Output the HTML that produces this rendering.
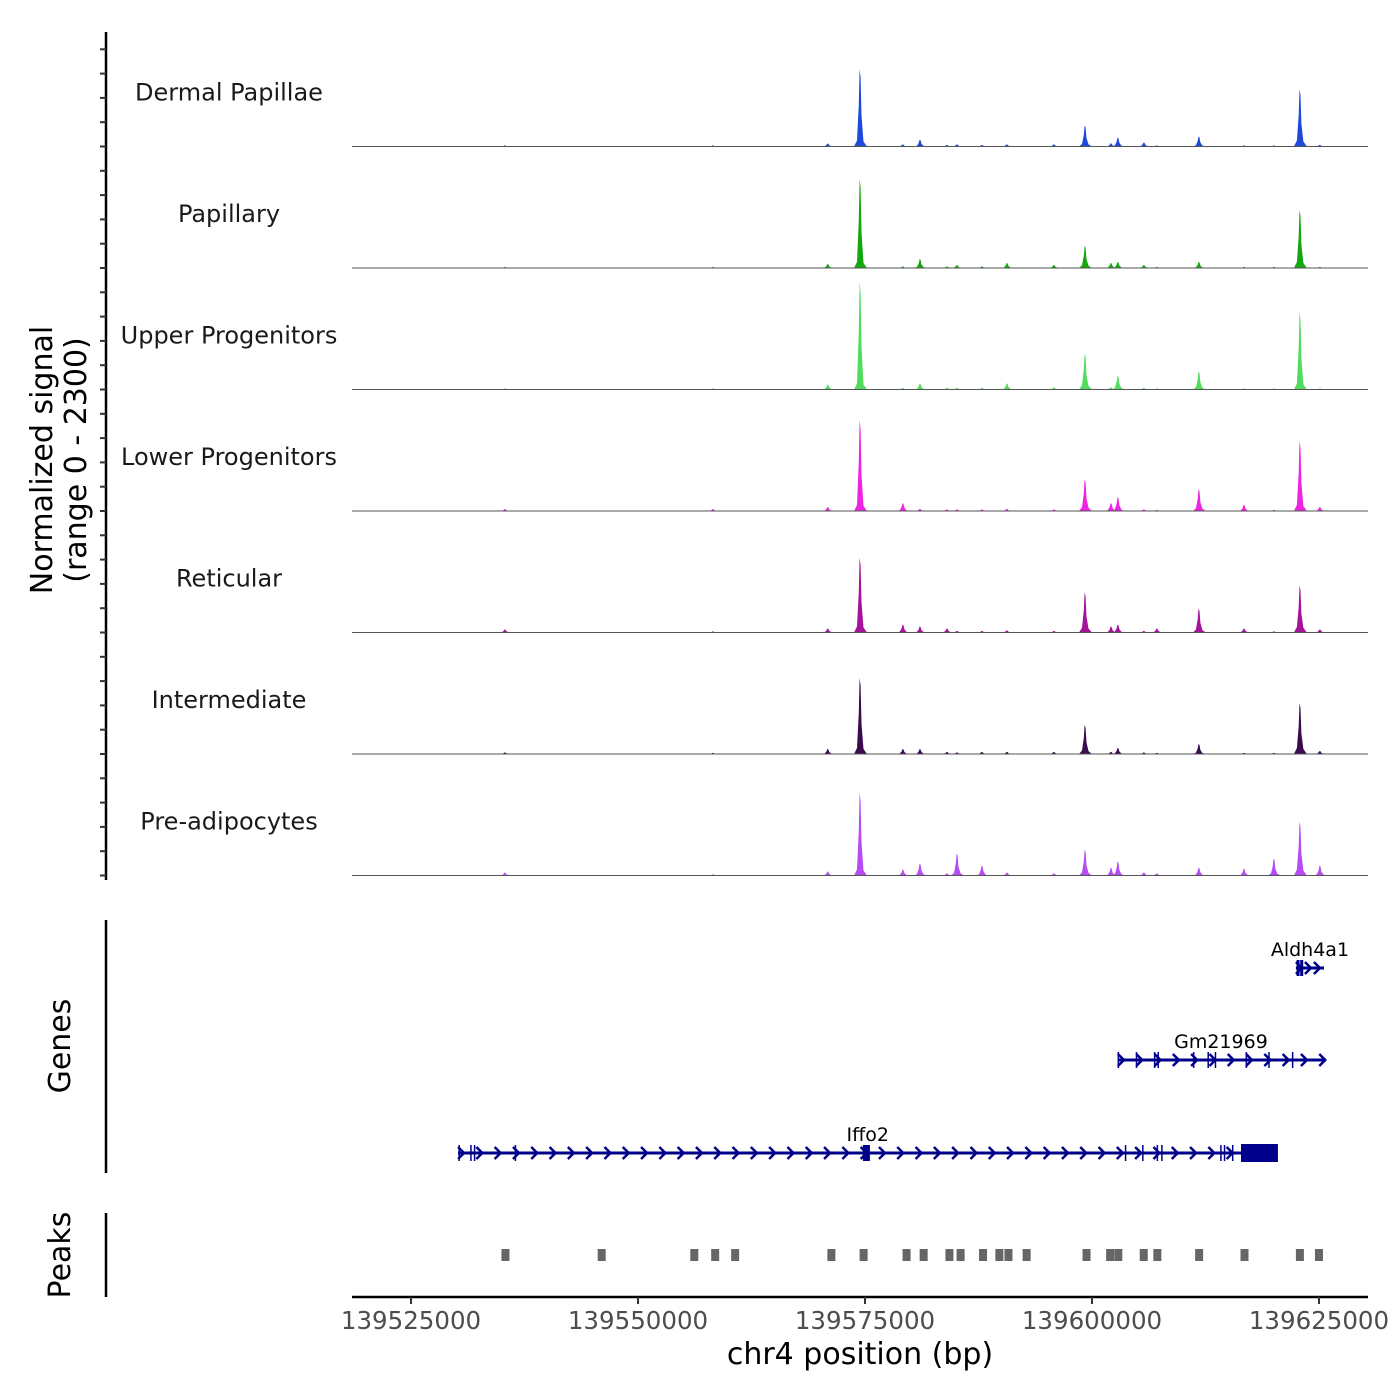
<!DOCTYPE html>
<html><head><meta charset="utf-8">
<style>
html,body{margin:0;padding:0;background:#fff;}
svg{display:block;font-family:"DejaVu Sans","Liberation Sans",sans-serif;}
</style></head>
<body>
<svg id="chart" width="1400" height="1400" viewBox="0 0 1400 1400" xmlns="http://www.w3.org/2000/svg">
<g id="tracks"></g>
<g id="left"></g>
<g id="genes"></g>
<g id="peaks"></g>
<g id="xaxis"></g>
</svg>
<script>
const trackNames = ["Dermal Papillae","Papillary","Upper Progenitors","Lower Progenitors","Reticular","Intermediate","Pre-adipocytes"];
const trackColors = ["#1d4ada","#15a80e","#52dc5e","#ee24e2","#a5139a","#3b0b50","#b54df3"];
const peakPos = [139535350,139558260,139570900,139574450,139579180,139581060,139584030,139585130,139587890,139590640,139595820,139599230,139602090,139602860,139605720,139607150,139611780,139616740,139620040,139622900,139625100];
// signal values (0-2300) per track at peakPos
const sigDermal   = [20,20,57,1460,40,130,30,40,30,40,40,400,60,170,75,20,190,20,20,1080,30];
const sigPapillary= [20,20,75,1690,30,170,30,57,30,95,57,420,95,115,57,20,115,20,20,1100,20];
const sigUpper    = [20,20,95,2030,30,115,30,30,30,115,40,680,40,265,30,20,340,20,20,1460,20];
const sigLower    = [38,38,75,1720,150,40,30,30,30,40,30,600,150,265,30,20,415,115,20,1320,75];
const sigReticular= [57,20,75,1420,150,115,75,30,30,40,30,760,115,150,30,75,455,75,20,890,57];
const sigInter    = [30,20,95,1440,95,95,40,30,40,40,40,550,40,115,30,20,190,20,20,965,57];
const sigPreadipo = [57,20,75,1570,115,230,40,415,190,57,40,490,150,265,57,40,150,130,320,1020,190];
const trackSignals = [sigDermal,sigPapillary,sigUpper,sigLower,sigReticular,sigInter,sigPreadipo];
const peakRegions = [139535400,139546000,139556200,139558500,139560700,139571300,139574850,139579580,139581460,139584300,139585530,139588000,139589800,139590800,139592800,139599400,139602000,139602900,139605700,139607200,139611800,139616800,139622900,139625000];
const xTicks = [139525000,139550000,139575000,139600000,139625000];
const genes = [
 {name:"Aldh4a1", start:139622460, end:139625550, row:0, exons:[139622700,139623100]},
 {name:"Gm21969", start:139602860, end:139625550, row:1, exons:[139602900,139604900,139606900,139607300,139611200,139612800,139613600,139617000,139619500,139622100]},
 {name:"Iffo2", start:139530180, end:139620480, row:2, thickStart:139616410, thickEnd:139620480, exons:[139530300,139531600,139532000,139536500,139574900,139575300,139603700,139605600,139607200,139607700,139614200,139614600,139615500]}
];

const NS="http://www.w3.org/2000/svg";
const X0=352, X1=1368, BP0=139518500, BP1=139630400;
function xs(bp){return X0+(bp-BP0)/(BP1-BP0)*(X1-X0);}
const TH=121.5, TOP=25, YMAX=2300;
function mk(tag,attrs,parent){const e=document.createElementNS(NS,tag);for(const k in attrs)e.setAttribute(k,attrs[k]);parent.appendChild(e);return e;}

const gT=document.getElementById('tracks');
trackNames.forEach((name,i)=>{
  const base=TOP+TH*(i+1);
  const g=mk('g',{},gT);
  
  
  const sig=trackSignals[i];
  peakPos.forEach((p,j)=>{
    const x=xs(p), h=sig[j]/YMAX*TH;
    const pts=[[x-6,base],[x-3,base-Math.min(h*0.12,6)],[x-1.2,base-h*0.55],[x-0.4,base-h],[x+0.6,base-h*0.9],[x+1.5,base-h*0.4],[x+3.5,base-Math.min(h*0.1,5)],[x+7,base]];
    const poly=mk('polygon',{points:pts.map(q=>q[0].toFixed(1)+','+q[1].toFixed(1)).join(' '),fill:trackColors[i]},g);
    
    
  });
  const bl=mk('line',{x1:X0,x2:X1,y1:base,y2:base,stroke:'#555',"stroke-width":1},g);
  
  
  const t=mk('text',{x:229,y:base-46,"text-anchor":"middle","font-size":24,fill:'#1a1a1a'},g);
  t.textContent=name;
  
  
});

const gL=document.getElementById('left');
mk('line',{x1:106,x2:106,y1:32,y2:880,stroke:'#000',"stroke-width":2.5},gL);
for(let k=0;k<=34;k++){const y=TOP+TH*7-k*TH/5; if(y<40)continue; mk('line',{x1:100,x2:106,y1:y,y2:y,stroke:'#333',"stroke-width":2},gL);}
const yl=mk('text',{transform:'translate(52,460) rotate(-90)',"text-anchor":"middle","font-size":30,fill:'#000'},gL);
yl.textContent='Normalized signal';


const yl2=mk('text',{transform:'translate(86,460) rotate(-90)',"text-anchor":"middle","font-size":30,fill:'#000'},gL);
yl2.textContent='(range 0 - 2300)';


mk('line',{x1:106,x2:106,y1:920,y2:1173,stroke:'#000',"stroke-width":2.5},gL);
const gl=mk('text',{transform:'translate(70,1046) rotate(-90)',"text-anchor":"middle","font-size":30,fill:'#000'},gL);
gl.textContent='Genes';


mk('line',{x1:106,x2:106,y1:1213,y2:1297,stroke:'#000',"stroke-width":2.5},gL);
const pl=mk('text',{transform:'translate(70,1255) rotate(-90)',"text-anchor":"middle","font-size":30,fill:'#000'},gL);
pl.textContent='Peaks';



const gG=document.getElementById('genes');
const rowY=[968,1060,1153], GC='#00008b';
genes.forEach(gn=>{
  const y=rowY[gn.row], x1=xs(gn.start), x2=xs(gn.end);
  const g=mk('g',{},gG);
  
  
  mk('line',{x1:x1,x2:x2,y1:y,y2:y,stroke:GC,"stroke-width":3},g);
  const step=gn.row===0?9:18.3;
  for(let ax=x1+3;ax<x2;ax+=step){
    mk('polyline',{points:`${ax-3},${y-6} ${ax+3},${y} ${ax-3},${y+6}`,fill:'none',stroke:GC,"stroke-width":2.5},g);
  }
  gn.exons.forEach(e=>{const ex=xs(e); mk('line',{x1:ex,x2:ex,y1:y-8,y2:y+8,stroke:GC,"stroke-width":gn.row===0?3:1.5},g);});
  if(gn.thickStart){mk('rect',{x:xs(gn.thickStart),y:y-9,width:xs(gn.thickEnd)-xs(gn.thickStart),height:18,fill:GC},g);}
  if(gn.name==='Iffo2'){mk('rect',{x:xs(139575100)-3,y:y-8,width:7,height:16,fill:GC},g);}
  const t=mk('text',{x:(gn.name==='Iffo2'?xs(139575300):(x1+x2)/2),y:y-12,"text-anchor":"middle","font-size":19,fill:'#000'},g);
  t.textContent=gn.name;
  
  
});

const gP=document.getElementById('peaks');
peakRegions.forEach(p=>{
  const r=mk('rect',{x:xs(p)-4,y:1249,width:8,height:12,fill:'#666'},gP);
  
  
});

const gX=document.getElementById('xaxis');
mk('line',{x1:X0,x2:X1,y1:1297,y2:1297,stroke:'#000',"stroke-width":2.5},gX);
xTicks.forEach(t=>{
  const x=xs(t);
  mk('line',{x1:x,x2:x,y1:1297,y2:1304,stroke:'#333',"stroke-width":2},gX);
  const l=mk('text',{x:x,y:1329,"text-anchor":"middle","font-size":24.5,fill:'#4d4d4d'},gX);
  l.textContent=t;
  
  
});
const xt=mk('text',{x:860,y:1364,"text-anchor":"middle","font-size":30,fill:'#000'},gX);
xt.textContent='chr4 position (bp)';


</script>
</body></html>
